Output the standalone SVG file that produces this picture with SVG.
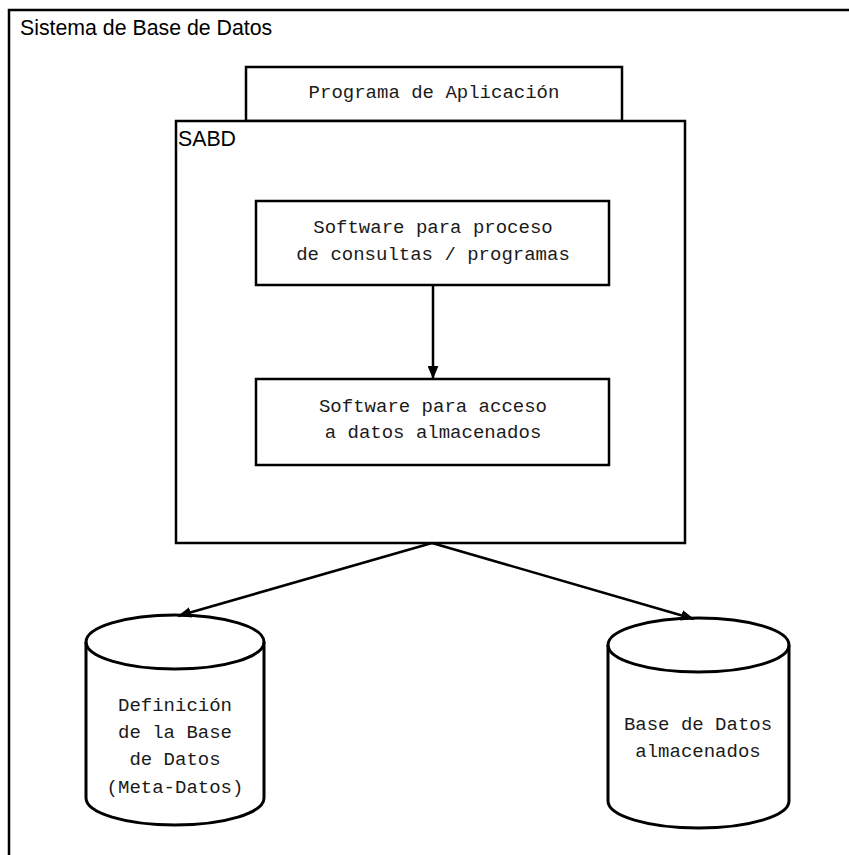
<svg xmlns="http://www.w3.org/2000/svg" width="849" height="855" viewBox="0 0 849 855">
  <style>
    .box { fill: #fff; stroke: #000; stroke-width: 2.5; }
    .cyl { fill: #fff; stroke: #000; stroke-width: 3; }
    .cyl-rim { fill: none; stroke: #000; stroke-width: 3; }
    .frame { fill: none; stroke: #000; stroke-width: 2.5; }
    .title { font-family: "Liberation Sans", Arial, sans-serif; font-size: 21.3px; fill: #000; }
    .mono { font-family: "Liberation Mono", "Courier New", monospace; font-size: 19px; fill: #1a1a1a; text-anchor: middle; }
    .edge { stroke: #000; stroke-width: 2.5; fill: none; marker-end: url(#arrow); }
  </style>
  <defs>
    <marker id="arrow" viewBox="0 0 12 10" refX="12" refY="5" markerWidth="13" markerHeight="11" markerUnits="userSpaceOnUse" orient="auto">
      <path d="M0,0 L12,5 L0,10 Z" fill="#000"/>
    </marker>
  </defs>
  <rect width="849" height="855" fill="#fff"/>

  <!-- outer system boundary: left and top edges only -->
  <g id="sistema">
    <path class="frame" d="M9,856 L9,10 L850,10"/>
    <text class="title" x="20" y="35">Sistema de Base de Datos</text>
  </g>

  <g id="programa">
    <rect class="box" x="246" y="67" width="376" height="54"/>
    <text class="mono" x="434" y="98">Programa de Aplicación</text>
  </g>

  <g id="sabd">
    <rect class="box" x="176" y="121" width="509" height="422"/>
    <text class="title" x="178" y="146">SABD</text>
  </g>

  <g id="proceso">
    <rect class="box" x="256" y="201" width="353" height="84"/>
    <text class="mono" x="433" y="233">Software para proceso</text>
    <text class="mono" x="433" y="260">de consultas / programas</text>
  </g>

  <g id="acceso">
    <rect class="box" x="256" y="379" width="353" height="86"/>
    <text class="mono" x="433" y="412">Software para acceso</text>
    <text class="mono" x="433" y="438">a datos almacenados</text>
  </g>

  <g id="metadatos">
    <path class="cyl" d="M86,642 L86,798 A89,27 0 0 0 264,798 L264,642 A89,27 0 0 0 86,642 Z"/>
    <path class="cyl-rim" d="M86,642 A89,27 0 0 0 264,642"/>
    <text class="mono" x="175" y="711">Definición</text>
    <text class="mono" x="175" y="738">de la Base</text>
    <text class="mono" x="175" y="765">de Datos</text>
    <text class="mono" x="175" y="793">(Meta-Datos)</text>
  </g>

  <g id="datos">
    <path class="cyl" d="M608,645 L608,801 A90.5,27 0 0 0 789,801 L789,645 A90.5,27 0 0 0 608,645 Z"/>
    <path class="cyl-rim" d="M608,645 A90.5,27 0 0 0 789,645"/>
    <text class="mono" x="698" y="730">Base de Datos</text>
    <text class="mono" x="698" y="757">almacenados</text>
  </g>

  <g id="connectors">
    <line class="edge" x1="433" y1="285" x2="433" y2="379"/>
    <line class="edge" x1="432" y1="543" x2="178" y2="616"/>
    <line class="edge" x1="432" y1="543" x2="694" y2="619"/>
  </g>
</svg>
